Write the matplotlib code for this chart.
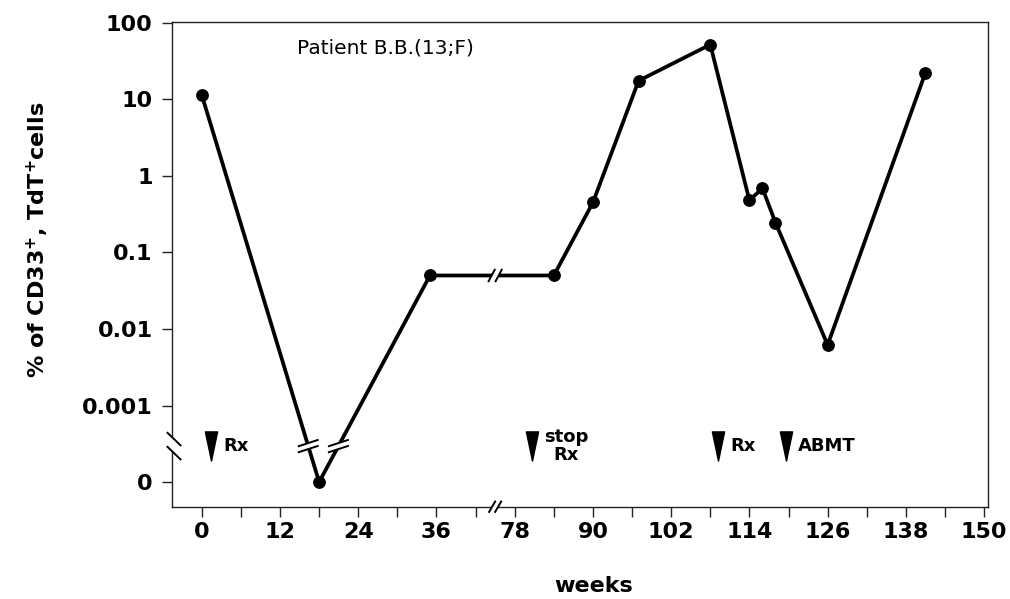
import numpy as np
import matplotlib
matplotlib.use("Agg")
import matplotlib.pyplot as plt
import matplotlib.transforms as mtransforms
from matplotlib.lines import Line2D
from matplotlib.patches import Polygon
from matplotlib.path import Path

# ---- data -------------------------------------------------------------
weeks = [0, 18, 35, 84, 90, 97, 108, 114, 116, 118, 126, 141]
percent_cells = [11.4, 0, 0.05, 0.05, 0.45, 17.5, 52, 0.48, 0.69, 0.245, 0.0062, 22.3]

x_tick_labels = ["0", "12", "24", "36", "78", "90", "102", "114", "126", "138", "150"]
y_tick_values = [0, 0.001, 0.01, 0.1, 1, 10, 100]
y_tick_labels = ["0", "0.001", "0.01", "0.1", "1", "10", "100"]

event_weeks = [1.4, 80.6, 109.2, 119.6]
event_labels = ["Rx", "stop\nRx", "Rx", "ABMT"]

# ---- axis geometry ----------------------------------------------------
CUT_FROM, CUT_LEN = 45, 30      # weeks 45..75 are removed from the x axis
ZERO_AT = 1e-4                  # the value 0 is drawn one decade below 0.001
BREAK_LEVEL = 10 ** -3.53       # y position of the axis break


def to_axis(w):
    return w if w <= CUT_FROM else w - CUT_LEN


def y_pos(v):
    return ZERO_AT if v == 0 else v


W, H = 1010, 599
fig = plt.figure(figsize=(W / 100, H / 100), dpi=100)
plt.rcParams["font.family"] = ["DejaVu Sans"]
plt.rcParams["mathtext.fontset"] = "dejavusans"

left, right, top, bottom = 172, 988, 21.7, 506.7
ax = fig.add_axes([left / W, 1 - bottom / H, (right - left) / W, (bottom - top) / H])

xs = [to_axis(w) for w in weeks]
ys = [y_pos(v) for v in percent_cells]

ax.set_yscale("log")
ax.set_xlim(-4.57, 120.6)
ax.set_ylim(10 ** -4.322, 10 ** 2.015)

ax.plot(xs, ys, color="black", lw=2.7, marker="o", ms=8.2,
        solid_joinstyle="round", zorder=3, clip_on=False)

# ticks
major_x = np.arange(0, 121, 12)
ax.set_xticks(major_x)
ax.set_xticklabels(x_tick_labels)
ax.set_xticks(np.arange(6, 121, 12), minor=True)
ax.set_yticks([y_pos(v) for v in y_tick_values])
ax.set_yticklabels(y_tick_labels)
ax.yaxis.set_minor_locator(matplotlib.ticker.NullLocator())

for s in ax.spines.values():
    s.set_linewidth(1.0)
    s.set_color("#222222")
ax.tick_params(axis="both", which="both", direction="out", length=7,
               width=1.0, color="#222222")
ax.tick_params(axis="y", pad=7)
ax.tick_params(axis="x", pad=4)
for lab in ax.get_xticklabels() + ax.get_yticklabels():
    lab.set_fontsize(16)
    lab.set_fontweight("bold")

# axis titles and caption
fig.text(38 / W, 1 - 240 / H, r"% of CD33$^{\mathbf{+}}$, TdT$^{\mathbf{+}}$cells",
         rotation=90, ha="center", va="center", fontsize=16, fontweight="bold")
fig.text(594 / W, 1 - 586 / H, "weeks", ha="center", va="center",
         fontsize=16, fontweight="bold")
fig.text(385 / W, 1 - 48 / H, "Patient B.B.(13;F)", ha="center", va="center",
         fontsize=14.5)

# treatment markers
blend = mtransforms.blended_transform_factory(ax.transData, ax.transAxes)
arrow = Path([(-0.21, 0.5), (0.21, 0.5), (0.0, -0.5), (-0.21, 0.5)],
             [Path.MOVETO, Path.LINETO, Path.LINETO, Path.CLOSEPOLY])
ev_x = [to_axis(w) for w in event_weeks]
ax.plot(ev_x, [0.125] * len(ev_x), transform=blend, ls="none", marker=arrow,
        ms=21, color="black", clip_on=False, zorder=4)
for x, lab in zip(ev_x, event_labels):
    ax.annotate(lab, xy=(x, 0.125), xycoords=blend, xytext=(12, 0),
                textcoords="offset pixels", ha="left", va="center",
                multialignment="center", fontsize=13, fontweight="bold",
                linespacing=1.0)

# ---- break symbols ----------------------------------------------------
to_fig = fig.transFigure.inverted()


def break_mark(center, angle, length, offset, lw=1.4):
    """Two parallel strokes around `center` (pixels) with white between."""
    c = np.asarray(center, float)
    u = 0.5 * length * np.array([np.cos(np.radians(angle)), np.sin(np.radians(angle))])
    o = 0.5 * np.asarray(offset, float)
    c1, c2 = c + o, c - o
    poly = np.array([c1 - u, c1 + u, c2 + u, c2 - u])
    fig.add_artist(Polygon(to_fig.transform(poly), closed=True, fc="white",
                           ec="none", transform=fig.transFigure, zorder=5))
    for cc in (c1, c2):
        seg = to_fig.transform(np.array([cc - u, cc + u]))
        fig.add_artist(Line2D(seg[:, 0], seg[:, 1], color="black", lw=lw,
                              transform=fig.transFigure, zorder=6))


fig.canvas.draw()
log_break = np.log10(BREAK_LEVEL)

# y axis break on the left spine
spine_px = ax.transAxes.transform((0, 0))[0]
_, yb = ax.transData.transform((0, BREAK_LEVEL))
break_mark((spine_px + 2, yb), -44, 18, (0, 14))

# x axis break on the bottom spine
xb, _ = ax.transData.transform((CUT_FROM, 1))
_, ybot = ax.transAxes.transform((0, 0))
break_mark((xb, ybot), 60, 12, (6, 0))

# breaks on the data line
for i in range(len(xs) - 1):
    x0, x1 = xs[i], xs[i + 1]
    l0, l1 = np.log10(ys[i]), np.log10(ys[i + 1])
    if (l0 - log_break) * (l1 - log_break) < 0:
        t = (log_break - l0) / (l1 - l0)
        px = ax.transData.transform((x0 + t * (x1 - x0), BREAK_LEVEL))
        break_mark(px, 18, 20, (0, 6))
    if x0 < CUT_FROM < x1:
        t = (CUT_FROM - x0) / (x1 - x0)
        px = ax.transData.transform((CUT_FROM, 10 ** (l0 + t * (l1 - l0))))
        break_mark(px, 62, 13, (7, 0))

fig.savefig("out.png", dpi=100)
